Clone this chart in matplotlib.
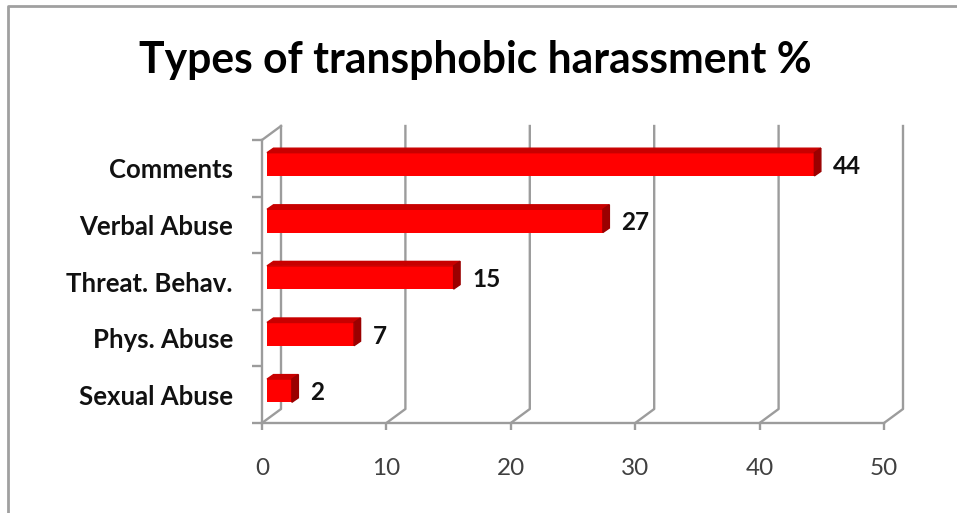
import numpy as np
import matplotlib.pyplot as plt
from matplotlib.lines import Line2D

plt.rcParams['font.family'] = ['Lato', 'DejaVu Sans']

# datos del grafico
categories = ['Sexual Abuse', 'Phys. Abuse', 'Threat. Behav.', 'Verbal Abuse', 'Comments']
values = [2, 7, 15, 27, 44]
xticks = [0, 10, 20, 30, 40, 50]
title = 'Types of transphobic harassment %'

W, H = 957, 513
fig = plt.figure(figsize=(W / 100, H / 100), dpi=100)

# plano frontal de la caja 3d (pixeles)
x0, x1, ybot, ytop = 262, 884, 423, 140
ax = fig.add_axes([x0 / W, (H - ybot) / H, (x1 - x0) / W, (ybot - ytop) / H])
ax.set_xlim(0, 50)
ax.set_ylim(0, len(categories))
ppx = (x1 - x0) / 50
ppy = (ybot - ytop) / len(categories)


def off(px, py):
    # pixeles -> unidades de datos
    return px / ppx, py / ppy


grid = '#9c9c9c'
lw = 1.7
DX, DY = off(19, 14)  # profundidad de la caja
ntop = len(categories)

# lineas de la pared del fondo y del piso
for v in xticks:
    ax.plot([v, v + DX, v + DX], [0, DY, ntop + DY], color=grid, lw=lw,
            clip_on=False, zorder=1)
ax.plot([0, DX], [ntop, ntop + DY], color=grid, lw=lw, clip_on=False, zorder=1)

for s in ['top', 'right']:
    ax.spines[s].set_visible(False)
for s in ['bottom', 'left']:
    ax.spines[s].set_color(grid)
    ax.spines[s].set_linewidth(lw)

ax.set_xticks(xticks)
ax.set_xticklabels([str(t) for t in xticks])
ax.tick_params(axis='x', length=5, width=lw, color=grid, pad=20,
               labelsize=17.5, labelcolor='#404040')
ax.set_yticks(range(ntop + 1))
ax.set_yticklabels([''] * (ntop + 1))
ax.tick_params(axis='y', length=7, width=lw, color=grid)
ax.set_yticks(np.arange(ntop) + 0.5, minor=True)
ax.set_yticklabels(categories, minor=True, fontsize=18.5, fontweight='bold',
                   color='#111111')
ax.tick_params(axis='y', which='minor', length=0, pad=21)
ax.set_facecolor('none')

# barras con efecto 3d
fx, fy = off(5, 4)
bx, by = off(6.5, 4.5)
h = 0.41
yc = np.arange(ntop) + 0.5 + fy
ax.barh(yc, values, height=h, left=fx, color='#ff0000', clip_on=False, zorder=3)
for y, v in zip(yc, values):
    top = [(fx, y + h / 2), (fx + v, y + h / 2), (fx + v + bx, y + h / 2 + by), (fx + bx, y + h / 2 + by)]
    side = [(fx + v, y - h / 2), (fx + v + bx, y - h / 2 + by), (fx + v + bx, y + h / 2 + by), (fx + v, y + h / 2)]
    ax.fill([p[0] for p in top], [p[1] for p in top], color='#c80000', clip_on=False, zorder=3)
    ax.fill([p[0] for p in side], [p[1] for p in side], color='#9a0000', clip_on=False, zorder=3)
    ax.text(fx + v + bx + off(12, 0)[0], y - off(0, 2)[1], str(v), va='center', ha='left',
            fontsize=17.5, fontweight='bold', color='#111111')

fig.text(475 / W, (H - 73) / H, title, ha='center', va='baseline',
         fontsize=30.7, fontweight='bold', color='black')

# marco del grafico
fig.add_artist(Line2D([8 / W, 8 / W, 1], [0, (H - 6) / H, (H - 6) / H],
                      color='#a0a0a0', lw=2, transform=fig.transFigure))

fig.savefig('out.png', dpi=100)
